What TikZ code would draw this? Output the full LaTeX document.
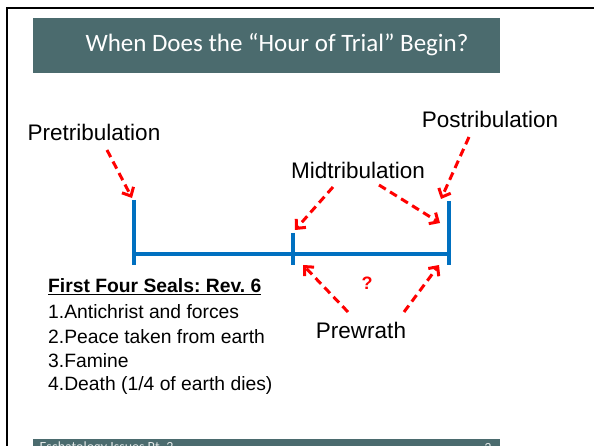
\documentclass[tikz,border=0pt]{standalone}
\usepackage{fontspec}
\setmainfont{Liberation Sans}
\newfontfamily\calibri{Carlito}
\usetikzlibrary{arrows.meta,positioning}
\frenchspacing
\definecolor{slideteal}{HTML}{4B6B6E}
\definecolor{lineblue}{HTML}{0070C0}
\tikzstyle{label}=[font=\fontsize{22.5}{26}\selectfont,inner sep=0pt]
\tikzstyle{listitem}=[font=\fontsize{19.3}{23}\selectfont,inner sep=0pt,anchor=west]
\tikzstyle{pointer}=[draw,red,line width=3pt,dash pattern=on 8pt off 5pt,-{Straight Barb[length=7pt,width=13pt,line width=3pt]}]
\tikzstyle{timeline}=[draw,lineblue,line width=3.5pt]

\begin{document}
\begin{tikzpicture}[x=1pt,y=-1pt]

    % Page and slide frame
    \useasboundingbox (0,0) rectangle (594,446);
    \clip (0,0) rectangle (594,446);
    \draw[line width=2pt] (7,460) -- (7,8) -- (610,8);

    % Title and footer bars
    \fill[slideteal] (33,18) rectangle (500,73);
    \node[text=white,font=\calibri\fontsize{25}{30}\selectfont] (title) at (277,45) {When Does the “Hour of Trial” Begin?};
    \fill[slideteal] (33,439) rectangle (500,470);
    \node[text=white!85!slideteal,font=\calibri\fontsize{14}{16}\selectfont,anchor=west] (foot) at (36,448) {Eschatology Issues Pt. 2};
    \node[text=white!85!slideteal,font=\calibri\fontsize{14}{16}\selectfont,anchor=east] (page) at (495,448) {3};

    % The timeline
    \coordinate (t0) at (134,254);
    \coordinate (t1) at (293,254);
    \coordinate (t2) at (449,254);
    \path[timeline] (t0) -- (t2);
    \path[timeline] (134,200) -- (134,265);
    \path[timeline] (293,233) -- (293,265);
    \path[timeline] (449,201) -- (449,265);

    % Views
    \node[label] (pre) at (94,132) {Pretribulation};
    \node[label] (post) at (490,119) {Postribulation};
    \node[label] (mid) at (358,170) {Midtribulation};
    \node[label] (wrath) at (361,330) {Prewrath};
    \node[red,font=\bfseries\fontsize{18}{20}\selectfont] (ask) at (367,283) {?};

    % Arrow ends
    \foreach \name/\x/\y in {preA/107/150, preB/132/198, postA/469/137, postB/441/199,
        midA/333/187, midB/295/230, midC/379/185, midD/440/223,
        wrA/348/312, wrB/303/265, wrC/404/312, wrD/439/265}
        \coordinate (\name) at (\x,\y);

    % Dashed pointers
    \foreach \source/ \dest in {preA/preB, postA/postB, midA/midB, midC/midD, wrA/wrB, wrC/wrD}
        \path[pointer] (\source) -- (\dest);

    % First four seals
    \node[listitem,font=\bfseries\fontsize{19.3}{23}\selectfont] (seals) at (48,287) {\underline{First Four Seals: Rev. 6}};
    \foreach \y/\name/\text in {312/s1/{1.Antichrist and forces}, 337/s2/{2.Peace taken from earth}, 361/s3/{3.Famine}, 386/s4/{4.Death (1/4 of earth dies)}}
        \node[listitem] (\name) at (48,\y) {\text};

\end{tikzpicture}
\end{document}
